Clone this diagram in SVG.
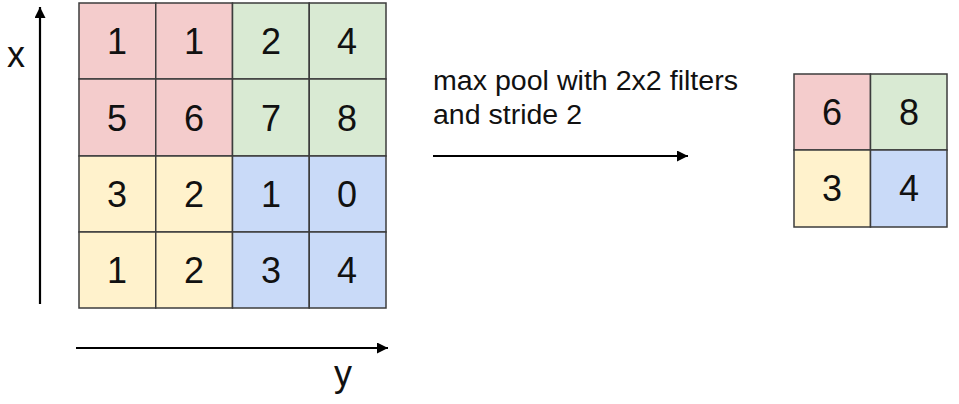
<svg xmlns="http://www.w3.org/2000/svg" width="959" height="404" viewBox="0 0 959 404">
<style>
.r{fill:#f4cccc}.g{fill:#d9ead3}.yl{fill:#fff2cc}.b{fill:#c9daf8}
.cell rect{stroke:#3c3c3c;stroke-width:1.5}
.d{font-family:"Liberation Sans",Arial,sans-serif;font-size:36px;fill:#111;text-anchor:middle}
.lbl{font-family:"Liberation Sans",Arial,sans-serif;font-size:27px;fill:#111}
.ax{font-family:"Liberation Sans",Arial,sans-serif;font-size:36px;fill:#111}
.conn line{stroke:#000;stroke-width:2.2;fill:none}
</style>
<defs>
<marker id="ah" viewBox="0 0 10 10" refX="10" refY="5" markerWidth="7" markerHeight="5" markerUnits="strokeWidth" orient="auto">
<path d="M0,0 L10,5 L0,10 z" fill="#000"/>
</marker>
</defs>
<rect width="959" height="404" fill="#fff"/>
<g id="input-grid" class="cell">
<rect class="r" x="79" y="3" width="76.75" height="76"/>
<rect class="r" x="155.75" y="3" width="76.75" height="76"/>
<rect class="g" x="232.5" y="3" width="76.75" height="76"/>
<rect class="g" x="309.25" y="3" width="76.75" height="76"/>
<rect class="r" x="79" y="79" width="76.75" height="77"/>
<rect class="r" x="155.75" y="79" width="76.75" height="77"/>
<rect class="g" x="232.5" y="79" width="76.75" height="77"/>
<rect class="g" x="309.25" y="79" width="76.75" height="77"/>
<rect class="yl" x="79" y="156" width="76.75" height="76"/>
<rect class="yl" x="155.75" y="156" width="76.75" height="76"/>
<rect class="b" x="232.5" y="156" width="76.75" height="76"/>
<rect class="b" x="309.25" y="156" width="76.75" height="76"/>
<rect class="yl" x="79" y="232" width="76.75" height="76"/>
<rect class="yl" x="155.75" y="232" width="76.75" height="76"/>
<rect class="b" x="232.5" y="232" width="76.75" height="76"/>
<rect class="b" x="309.25" y="232" width="76.75" height="76"/>
<text class="d" x="117" y="54">1</text>
<text class="d" x="194" y="54">1</text>
<text class="d" x="271" y="54">2</text>
<text class="d" x="347" y="54">4</text>
<text class="d" x="117" y="131">5</text>
<text class="d" x="194" y="131">6</text>
<text class="d" x="271" y="131">7</text>
<text class="d" x="347" y="131">8</text>
<text class="d" x="117" y="207">3</text>
<text class="d" x="194" y="207">2</text>
<text class="d" x="271" y="207">1</text>
<text class="d" x="347" y="207">0</text>
<text class="d" x="117" y="283">1</text>
<text class="d" x="194" y="283">2</text>
<text class="d" x="271" y="283">3</text>
<text class="d" x="347" y="283">4</text>
</g>
<g id="output-grid" class="cell">
<rect class="r" x="794" y="74" width="76.5" height="76"/>
<rect class="g" x="870.5" y="74" width="76.5" height="76"/>
<rect class="yl" x="794" y="150" width="76.5" height="77"/>
<rect class="b" x="870.5" y="150" width="76.5" height="77"/>
<text class="d" x="832" y="125">6</text>
<text class="d" x="909" y="125">8</text>
<text class="d" x="832" y="201">3</text>
<text class="d" x="909" y="201">4</text>
</g>
<g id="axis-x-label"><text class="ax" x="7" y="67">x</text></g>
<g id="axis-y-label"><text class="ax" x="334" y="386">y</text></g>
<g id="pool-label">
<text class="lbl" x="433" y="90" textLength="305" lengthAdjust="spacingAndGlyphs">max pool with 2x2 filters</text>
<text class="lbl" x="433" y="124" textLength="149" lengthAdjust="spacingAndGlyphs">and stride 2</text>
</g>
<g id="connectors" class="conn">
<line x1="40" y1="304" x2="40" y2="7" marker-end="url(#ah)"/>
<line x1="76" y1="348" x2="388" y2="348" marker-end="url(#ah)"/>
<line x1="433" y1="156" x2="688" y2="156" marker-end="url(#ah)"/>
</g>
</svg>
